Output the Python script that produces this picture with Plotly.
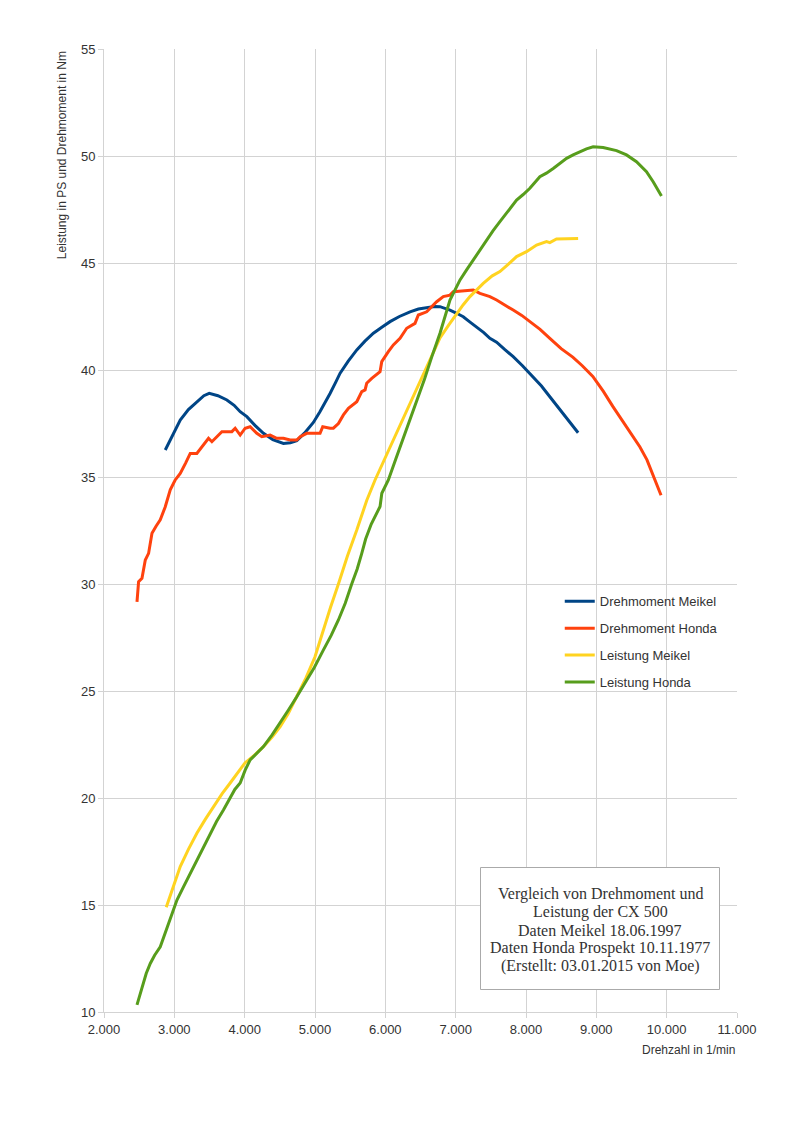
import plotly.graph_objects as go

# ---------------- data ----------------
dm_meikel_rpm = [2871, 2980, 3084, 3200, 3321, 3420, 3496, 3620, 3747, 3850, 3936, 4031, 4150, 4267,
                 4400, 4551, 4650, 4741, 4850, 4977, 5070, 5168, 5214, 5290, 5357, 5470, 5594, 5710,
                 5830, 5950, 6067, 6200, 6351, 6470, 6588, 6700, 6777, 6919, 7014, 7108, 7200, 7298,
                 7400, 7487, 7582, 7700, 7818, 7950, 8102, 8220, 8339, 8450, 8550, 8650, 8741]
dm_meikel_val = [36.26, 37.0, 37.66, 38.15, 38.52, 38.8, 38.91, 38.8, 38.6, 38.35, 38.05, 37.82, 37.4, 37.04,
                 36.75, 36.57, 36.6, 36.7, 37.05, 37.55, 38.05, 38.6, 38.9, 39.4, 39.85, 40.4, 40.94, 41.35,
                 41.72, 42.0, 42.26, 42.5, 42.72, 42.85, 42.93, 42.97, 42.96, 42.8, 42.65, 42.49, 42.25, 42.02,
                 41.75, 41.48, 41.3, 40.95, 40.62, 40.2, 39.69, 39.25, 38.75, 38.3, 37.85, 37.45, 37.07]

dm_honda_rpm = [2469, 2492, 2540, 2587, 2634, 2682, 2740, 2800, 2870, 2942, 3010, 3084, 3160, 3226, 3320,
                3392, 3486, 3534, 3600, 3676, 3818, 3865, 3936, 4007, 4078, 4173, 4244, 4362, 4457, 4551,
                4646, 4741, 4790, 4883, 5072, 5110, 5214, 5261, 5333, 5404, 5475, 5594, 5665, 5712, 5735,
                5807, 5925, 5949, 6043, 6114, 6209, 6304, 6422, 6469, 6588, 6659, 6730, 6824, 6919, 6966,
                7156, 7250, 7345, 7487, 7582, 7700, 7818, 7940, 8055, 8200, 8339, 8500, 8665, 8800, 8950,
                9100, 9234, 9380, 9518, 9620, 9720, 9820, 9920]
dm_honda_val = [29.17, 30.11, 30.27, 31.12, 31.43, 32.37, 32.7, 33.0, 33.6, 34.4, 34.85, 35.17, 35.65, 36.1, 36.1,
                36.42, 36.81, 36.65, 36.85, 37.12, 37.12, 37.28, 36.96, 37.28, 37.35, 37.04, 36.88, 36.96, 36.81, 36.81,
                36.73, 36.73, 36.88, 37.04, 37.04, 37.35, 37.28, 37.28, 37.5, 37.9, 38.21, 38.52, 38.99, 39.07, 39.38,
                39.61, 39.92, 40.39, 40.86, 41.17, 41.48, 41.95, 42.18, 42.57, 42.72, 42.96, 43.19, 43.43, 43.5, 43.66,
                43.71, 43.74, 43.58, 43.43, 43.27, 43.05, 42.8, 42.55, 42.26, 41.9, 41.48, 41.0, 40.6, 40.2, 39.7,
                39.0, 38.3, 37.6, 36.9, 36.4, 35.8, 35.0, 34.15]

ps_meikel_rpm = [2885, 2980, 3084, 3200, 3320, 3440, 3557, 3680, 3794, 3900, 4007, 4140, 4267, 4390, 4505,
                 4620, 4741, 4870, 5000, 5110, 5220, 5333, 5460, 5594, 5735, 5854, 5990, 6200, 6400, 6600,
                 6777, 6900, 7014, 7108, 7203, 7300, 7392, 7520, 7629, 7750, 7866, 8008, 8150, 8292, 8339,
                 8434, 8577, 8741]
ps_meikel_val = [14.9, 15.8, 16.8, 17.6, 18.35, 19.0, 19.6, 20.2, 20.7, 21.2, 21.65, 22.0, 22.4, 22.85, 23.33,
                 23.95, 24.73, 25.6, 26.6, 27.8, 28.9, 30.0, 31.3, 32.52, 33.9, 34.86, 35.85, 37.35, 38.8, 40.25,
                 41.5, 42.1, 42.65, 43.05, 43.43, 43.75, 44.05, 44.4, 44.6, 44.95, 45.3, 45.53, 45.84, 46.0, 45.95,
                 46.12, 46.15, 46.15]

ps_honda_rpm = [2469, 2516, 2560, 2600, 2658, 2720, 2800, 2860, 2932, 3037, 3130, 3226, 3320, 3420, 3510,
                3600, 3700, 3794, 3860, 3936, 4007, 4078, 4170, 4267, 4390, 4505, 4620, 4741, 4860, 4990,
                5120, 5230, 5333, 5430, 5522, 5600, 5665, 5720, 5800, 5925, 5950, 6043, 6150, 6250, 6350,
                6450, 6555, 6659, 6777, 6919, 7062, 7160, 7250, 7340, 7440, 7530, 7629, 7750, 7866, 7960,
                8055, 8197, 8290, 8387, 8480, 8577, 8670, 8766, 8860, 8955, 9097, 9287, 9429, 9571, 9713,
                9808, 9926]
ps_honda_val = [10.33, 10.87, 11.3, 11.8, 12.27, 12.65, 13.05, 13.6, 14.33, 15.23, 15.85, 16.48, 17.1, 17.75, 18.35,
                18.9, 19.45, 20.0, 20.4, 20.7, 21.3, 21.78, 22.1, 22.4, 22.95, 23.5, 24.1, 24.73, 25.36, 26.1,
                26.92, 27.6, 28.32, 29.1, 30.0, 30.7, 31.43, 32.1, 32.8, 33.62, 34.24, 34.86, 35.85, 36.75, 37.7,
                38.6, 39.55, 40.6, 41.72, 43.27, 44.21, 44.7, 45.14, 45.6, 46.08, 46.5, 46.93, 47.45, 47.94, 48.2,
                48.49, 49.03, 49.2, 49.42, 49.65, 49.89, 50.05, 50.2, 50.33, 50.43, 50.4, 50.25, 50.05, 49.73, 49.27,
                48.8, 48.13]

x_ticks = [2000, 3000, 4000, 5000, 6000, 7000, 8000, 9000, 10000, 11000]
y_ticks = [10, 15, 20, 25, 30, 35, 40, 45, 50, 55]

info_lines = ["Vergleich von Drehmoment und",
              "Leistung der CX 500",
              "Daten Meikel 18.06.1997",
              "Daten Honda Prospekt 10.11.1977",
              "(Erstellt: 03.01.2015 von Moe)"]

series = [
    ("Drehmoment Meikel", dm_meikel_rpm, dm_meikel_val, "#004586"),
    ("Drehmoment Honda", dm_honda_rpm, dm_honda_val, "#ff420e"),
    ("Leistung Meikel", ps_meikel_rpm, ps_meikel_val, "#ffd320"),
    ("Leistung Honda", ps_honda_rpm, ps_honda_val, "#579d1c"),
]

fig = go.Figure()
for i, (name, xs, ys, col) in enumerate(series):
    fig.add_trace(go.Scatter(x=xs, y=ys, mode="lines", name=name, legendgroup=f"g{i}",
                             line=dict(color=col, width=3)))

FONT = "Liberation Sans, Arial, sans-serif"
grid = "#d3d3d3"

# the page has an 8px body margin; plot area targets x 104..737, y 49..1012
fig.update_layout(
    width=792, height=1124,
    margin=dict(l=96, r=63, t=41, b=120),
    paper_bgcolor="white", plot_bgcolor="white",
    separators=",.",
    font=dict(family=FONT, size=13, color="#333333"),
    showlegend=True,
    legend=dict(x=0.72, y=0.442, xanchor="left", yanchor="top",
                font=dict(family=FONT, size=13, color="#333333"),
                bgcolor="rgba(0,0,0,0)", tracegroupgap=7, itemwidth=30),
    xaxis=dict(range=[2000, 11000], tickvals=x_ticks, tickformat=",d",
               showgrid=True, gridcolor=grid, gridwidth=1, zeroline=False,
               showline=True, linecolor=grid, linewidth=1,
               ticks="outside", ticklen=5, tickcolor=grid,
               tickfont=dict(family=FONT, size=13, color="#333333")),
    yaxis=dict(range=[10, 55], tickvals=y_ticks,
               showgrid=True, gridcolor=grid, gridwidth=1, zeroline=False,
               showline=True, linecolor=grid, linewidth=1,
               ticks="outside", ticklen=5, tickcolor=grid,
               tickfont=dict(family=FONT, size=13, color="#333333")),
)

annotations = [
    dict(text="Leistung in PS und Drehmoment in Nm", textangle=-90, xref="paper", yref="paper",
         x=-0.066, y=1.0, xanchor="center", yanchor="top", showarrow=False,
         font=dict(family=FONT, size=12, color="#333333")),
    dict(text="Drehzahl in 1/min", xref="paper", yref="paper", x=1.0, y=-0.039,
         xanchor="right", yanchor="middle", showarrow=False,
         font=dict(family=FONT, size=12, color="#333333")),
]
line_y = [894, 912, 930, 948, 966]
for txt, py in zip(info_lines, line_y):
    annotations.append(dict(text=txt, xref="paper", yref="paper",
                            x=(600 - 104) / 633, y=(1012 - py) / 963,
                            xanchor="center", yanchor="middle", showarrow=False,
                            font=dict(family="Liberation Serif, Times New Roman, serif", size=16, color="#333333")))
fig.update_layout(annotations=annotations)
fig.add_shape(type="rect", xref="paper", yref="paper",
              x0=(480.5 - 104) / 633, x1=(719.5 - 104) / 633,
              y0=(1012 - 989.5) / 963, y1=(1012 - 867.5) / 963,
              line=dict(color="#aaaaaa", width=1), fillcolor="white", layer="above")

fig.write_html("out.html")
